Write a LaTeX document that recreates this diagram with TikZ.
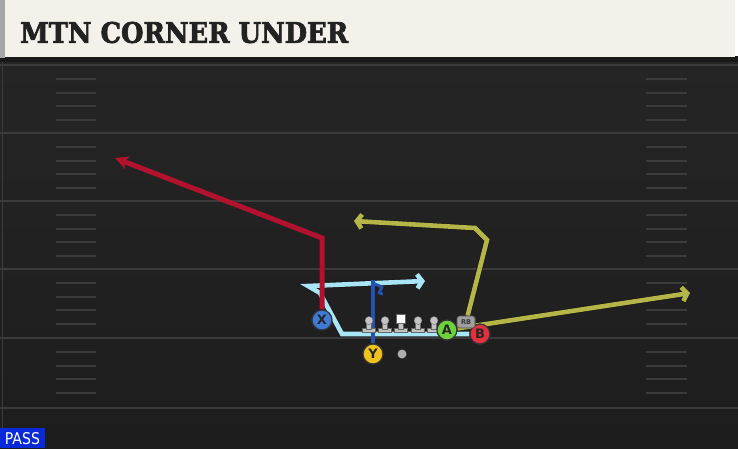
\documentclass[tikz,border=0pt]{standalone}
\usepackage{fontspec}
\setmainfont{DejaVu Sans}
\newfontfamily\titlefont[BoldFeatures={FakeBold=2.5}]{DejaVu Serif}
\newfontfamily\tagfont{DejaVu Sans Condensed}
\usetikzlibrary{arrows.meta}

\definecolor{fieldbg}{HTML}{252525}
\definecolor{fielddark}{HTML}{1D1D1D}
\definecolor{yardline}{HTML}{3B3B3B}
\definecolor{banner}{HTML}{F4F1EA}
\definecolor{titleink}{HTML}{222222}
\definecolor{routered}{HTML}{B3122E}
\definecolor{routecyan}{HTML}{A9E6F5}
\definecolor{routeolive}{HTML}{B5B548}
\definecolor{routeblue}{HTML}{2352B0}
\definecolor{plx}{HTML}{3F7BD6}
\definecolor{ply}{HTML}{F0C21E}
\definecolor{pla}{HTML}{6CD43A}
\definecolor{plb}{HTML}{E2303F}
\definecolor{linegray}{HTML}{C4C4C4}
\definecolor{passblue}{HTML}{0A2AD8}

\begin{document}
\begin{tikzpicture}[x=1pt, y=-1pt,
    player/.style={circle, draw=black!80, line width=1.2pt, minimum size=20pt, inner sep=0pt, font=\bfseries\fontsize{13}{13}\selectfont, text=black!85},
    rbtag/.style={fill=gray!75, draw=black!70, line width=0.6pt, rounded corners=2.5pt, minimum width=18pt, minimum height=12pt, inner sep=0pt, font=\bfseries\fontsize{6.5}{7}\selectfont, text=black!80},
    route/.style={line width=4.6pt, preaction={draw=black!90, line width=6pt}},
    hash/.style={yardline, line width=1.8pt},
    lineman/.style={fill=linegray, draw=black!60, line width=0.4pt}]

    \useasboundingbox (0,0) rectangle (738,448);

    % Draw the field
    \shade[top color=fieldbg, bottom color=fielddark] (0,58) rectangle (738,448);
    \draw[yardline, line width=1pt] (2,62) -- (2,448);

    % Yard lines
    \foreach \y in {65,133,201,269,338,408}
        \draw[yardline, line width=2.2pt] (0,\y) -- (738,\y);

    % Hash marks on both sides
    \foreach \y in {65,133,201,269,338}
        \foreach \d in {14,28,41,55} {
            \draw[hash] (56,\y+\d) -- (96,\y+\d);
            \draw[hash] (646,\y+\d) -- (687,\y+\d);
        }

    % Title banner
    \fill[black!90] (0,56) rectangle (738,62);
    \fill[banner] (5,0) rectangle (735,57);
    \fill[gray!70] (0,0) rectangle (5,58);
    \node[anchor=west, inner sep=0pt, text=titleink] (title) at (20,32.5)
        {\resizebox{328pt}{21pt}{\titlefont\bfseries MTN CORNER UNDER}};

    % Players
    \node[player, fill=plx] (X) at (322,320) {X};
    \node[player, fill=ply] (Y) at (373,354) {Y};
    \node[player, fill=pla] (A) at (447,330) {A};
    \node[player, fill=plb] (B) at (480,334) {B};
    \node[rbtag] (RB) at (466,322) {RB};
    \node[circle, fill=gray!65, minimum size=9pt, inner sep=0pt] (QB) at (402,354) {};

    % Route break points
    \coordinate (xbreak) at (322,238);
    \coordinate (xend) at (115,158);
    \coordinate (bflat) at (342,334);
    \coordinate (bbend) at (320,293);
    \coordinate (btip) at (308,286);
    \coordinate (bend) at (425,281);
    \coordinate (rbbreak) at (487,240);
    \coordinate (rbturn) at (475,228);
    \coordinate (rbend) at (354,221);
    \coordinate (aend) at (690,293);
    \coordinate (ytop) at (373,280);

    % B under route (light blue)
    \draw[route, routecyan, line join=miter, -{Straight Barb[length=5pt, width=14pt]}]
        (B) -- (bflat) -- (bbend) -- (btip) -- (bend);

    % X route (red)
    \draw[routered, line width=5pt, -{Stealth[length=13pt, width=13pt, inset=3pt]}]
        (X) -- (xbreak) -- (xend);

    % RB route (olive)
    \draw[route, routeolive, -{Straight Barb[length=5pt, width=14pt]}]
        (RB) -- (rbbreak) -- (rbturn) -- (rbend);

    % A route (olive)
    \draw[route, routeolive, -{Straight Barb[length=5pt, width=14pt]}]
        (A) -- (aend);

    % Y route (blue) with little flag
    \draw[routeblue, line width=3.4pt] (Y) -- (ytop);
    \draw[routeblue, line width=2.8pt, line join=round] ([yshift=-3pt]ytop) -- ++(9,4) -- ++(-3,6) -- ++(4,1);

    % Offensive line
    \foreach \x in {369,385,418,434} {
        \fill[lineman] (\x-6.5,328) rectangle (\x+6.5,332.5);
        \fill[lineman] (\x-2.5,321) rectangle (\x+2.5,329);
        \fill[lineman] (\x,320.5) circle (4);
    }
    \fill[lineman] (394.5,328) rectangle (407.5,332.5);
    \fill[lineman] (398.5,321) rectangle (403.5,329);
    \fill[white, draw=black!60, line width=0.4pt] (396.5,314.5) rectangle (405.5,323);

    % Redraw players on top of the routes
    \node[player, fill=plx] at (X) {X};
    \node[player, fill=ply] at (Y) {Y};
    \node[player, fill=pla] at (A) {A};
    \node[player, fill=plb] at (B) {B};
    \node[rbtag] at (RB) {RB};

    % Play type tag
    \fill[passblue] (0,428) rectangle (45,448);
    \node[white, inner sep=0pt] (pass) at (22.5,439)
        {\resizebox{35pt}{12pt}{\tagfont PASS}};

\end{tikzpicture}
\end{document}
